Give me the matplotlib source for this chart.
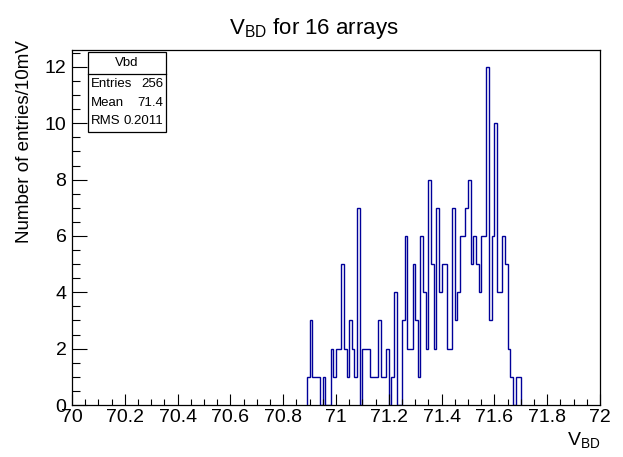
import numpy as np
import matplotlib
matplotlib.use("Agg")
import matplotlib.pyplot as plt
from matplotlib.patches import Rectangle
from matplotlib.ticker import MultipleLocator

plt.rcParams['font.family'] = ['Liberation Sans', 'DejaVu Sans']
plt.rcParams['mathtext.fontset'] = 'custom'
plt.rcParams['mathtext.rm'] = 'Liberation Sans'
plt.rcParams['mathtext.it'] = 'Liberation Sans:italic'

# ---- data ----
bin_width = 0.01
first_edge = 70.89
counts = [1, 3, 1, 1, 1, 0, 1, 0, 0, 2,   # 70.89 - 70.98
          1, 2, 2, 5, 2, 1, 3, 2, 1, 7,   # 70.99 - 71.08
          0, 2, 2, 2, 1, 1, 1, 3, 1, 1,   # 71.09 - 71.18
          2, 0, 1, 4, 0, 0, 3, 6, 2, 2,   # 71.19 - 71.28
          5, 3, 1, 6, 4, 2, 8, 5, 2, 7,   # 71.29 - 71.38
          4, 5, 5, 2, 2, 7, 3, 4, 6, 6,   # 71.39 - 71.48
          7, 8, 5, 6, 5, 4, 6, 6, 12, 3,  # 71.49 - 71.58
          6, 10, 4, 4, 6, 5, 2, 1, 0, 1,  # 71.59 - 71.68
          1]                              # 71.69
stat_names = ["Entries", "Mean", "RMS"]
stat_values = ["256", "71.4", "0.2011"]
title_text = r"V$_{\rm BD}$ for 16 arrays"
xlabel_text = r"V$_{\rm BD}$"
ylabel_text = "Number of entries/10mV"

W, H = 623, 457
fig = plt.figure(figsize=(W / 100, H / 100), dpi=100)
fig.patch.set_facecolor("white")

L, R, T, B = 72, 600, 50, 405
ax = fig.add_axes([L / W, 1 - B / H, (R - L) / W, (B - T) / H])

edges = first_edge + bin_width * np.arange(len(counts) + 1)
ax.stairs(counts, edges, color="#000099", linewidth=1.0, baseline=0)

ax.set_xlim(70, 72)
ax.set_ylim(0, 12.6)
ax.xaxis.set_minor_locator(MultipleLocator(0.05))
ax.yaxis.set_major_locator(MultipleLocator(2))
ax.yaxis.set_minor_locator(MultipleLocator(0.5))
ax.set_xticks(np.arange(70, 72.001, 0.2))
ax.set_xticklabels(["70", "70.2", "70.4", "70.6", "70.8", "71", "71.2",
                    "71.4", "71.6", "71.8", "72"])
ax.tick_params(axis="both", which="both", direction="in", top=False, right=False,
               labelsize=14, colors="black")
ax.tick_params(axis="x", which="major", length=8, width=0.8, pad=3)
ax.tick_params(axis="x", which="minor", length=4, width=0.8)
ax.tick_params(axis="y", which="major", length=11, width=0.8, pad=4)
ax.tick_params(axis="y", which="minor", length=5.5, width=0.8)
for s in ax.spines.values():
    s.set_linewidth(0.9)
    s.set_color("black")

# title
fig.text(314 / W, 1 - 34 / H, title_text, ha="center", va="baseline", fontsize=16)
# axis titles
fig.text(600 / W, 1 - 445 / H, xlabel_text, ha="right", va="baseline", fontsize=14)
fig.text(25 / W, 1 - 40 / H, ylabel_text, ha="center", va="top", rotation=90,
         fontsize=13.5)

# stat box
bx0, bx1, by0, by1 = 88, 166, 52, 132
fig.patches.append(Rectangle((bx0 / W, 1 - by1 / H), (bx1 - bx0) / W, (by1 - by0) / H,
                             transform=fig.transFigure, facecolor="white",
                             edgecolor="black", linewidth=0.9, zorder=5))
fig.add_artist(plt.Line2D([bx0 / W, bx1 / W], [1 - 74 / H, 1 - 74 / H],
                          transform=fig.transFigure, color="black", linewidth=0.9,
                          zorder=6))
fig.text((bx0 + bx1) / 2 / W, 1 - 63 / H, "Vbd", ha="center", va="center",
         fontsize=9.5, zorder=7)
row_y = [84, 103, 121]
for name, val, yy in zip(stat_names, stat_values, row_y):
    fig.text(91 / W, 1 - yy / H, name, ha="left", va="center", fontsize=9.5, zorder=7)
    fig.text(163 / W, 1 - yy / H, val, ha="right", va="center", fontsize=9.5, zorder=7)

fig.savefig("out.png", dpi=100, facecolor="white")
